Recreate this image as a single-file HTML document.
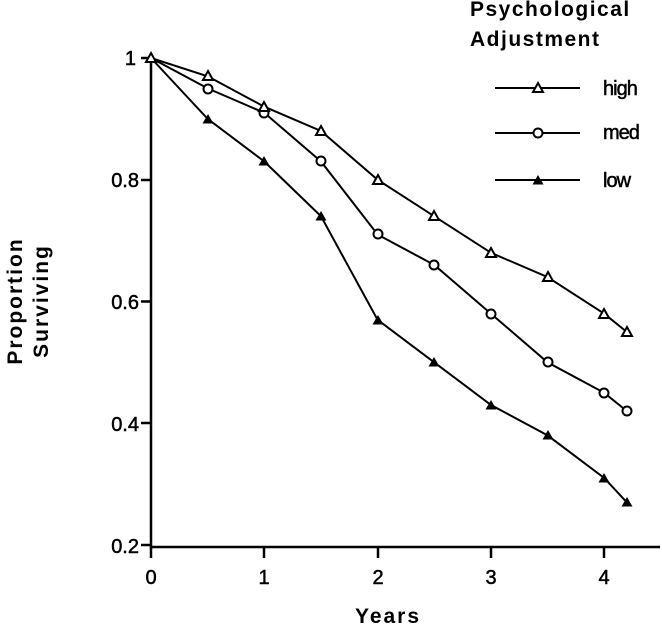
<!DOCTYPE html>
<html><head><style>body{margin:0;background:#fff}svg{display:block}text{font-family:"Liberation Sans",sans-serif;fill:#000}</style></head><body>
<svg width="662" height="626" viewBox="0 0 662 626">
<defs>
<symbol id="to" viewBox="-6 -6 12 12" overflow="visible"><path d="M0,-5 L5,4 L-5,4 Z" fill="#fff" stroke="#000" stroke-width="2"/></symbol>
<symbol id="tf" viewBox="-6 -6 12 12" overflow="visible"><path d="M0,-5 L5.5,4.5 L-5.5,4.5 Z" fill="#000"/></symbol>
<symbol id="c" viewBox="-6 -6 12 12" overflow="visible"><circle r="4.5" fill="#fff" stroke="#000" stroke-width="2"/></symbol>
</defs>
<g stroke="#000" stroke-width="2.5" fill="none">
<line x1="151" y1="56" x2="151" y2="549"/><line x1="150" y1="547" x2="660" y2="547"/>
<line x1="141" y1="58" x2="151" y2="58"/><line x1="141" y1="180" x2="151" y2="180"/><line x1="141" y1="301.5" x2="151" y2="301.5"/><line x1="141" y1="423" x2="151" y2="423"/><line x1="141" y1="545" x2="151" y2="545"/>
<line x1="151" y1="547" x2="151" y2="558"/><line x1="264" y1="547" x2="264" y2="558"/><line x1="378" y1="547" x2="378" y2="558"/><line x1="491" y1="547" x2="491" y2="558"/><line x1="604" y1="547" x2="604" y2="558"/>
</g>
<g stroke="#000" stroke-width="2" fill="none">
<polyline points="151,58 207.7,76.3 264.3,106.7 321,131 377.6,179.8 434.3,216.3 491,252.8 547.6,277.1 604.2,313.7 626.9,332"/>
<polyline points="151,58 207.7,88.4 264.3,112.8 321,161.5 377.6,234.5 434.3,265 491,313.7 547.6,362.4 604.2,392.8 626.9,411.1"/>
<polyline points="151,58 207.7,118.9 264.3,161.5 321,216.3 377.6,319.8 434.3,362.4 491,405 547.6,435.4 604.2,478 626.9,502.4"/>
<line x1="495" y1="88" x2="580" y2="88"/><line x1="495" y1="133" x2="580" y2="133"/><line x1="495" y1="180" x2="580" y2="180"/>
</g>
<g>
<use href="#c" x="202" y="83" width="12" height="12"/><use href="#c" x="258" y="107" width="12" height="12"/><use href="#c" x="315" y="155" width="12" height="12"/><use href="#c" x="372" y="228" width="12" height="12"/><use href="#c" x="428" y="259" width="12" height="12"/><use href="#c" x="485" y="308" width="12" height="12"/><use href="#c" x="542" y="356" width="12" height="12"/><use href="#c" x="598" y="387" width="12" height="12"/><use href="#c" x="621" y="405" width="12" height="12"/><use href="#c" x="532" y="127" width="12" height="12"/>
<use href="#to" x="145" y="52" width="12" height="12"/><use href="#to" x="202" y="70" width="12" height="12"/><use href="#to" x="258" y="101" width="12" height="12"/><use href="#to" x="315" y="125" width="12" height="12"/><use href="#to" x="372" y="174" width="12" height="12"/><use href="#to" x="428" y="210" width="12" height="12"/><use href="#to" x="485" y="247" width="12" height="12"/><use href="#to" x="542" y="271" width="12" height="12"/><use href="#to" x="598" y="308" width="12" height="12"/><use href="#to" x="621" y="326" width="12" height="12"/><use href="#to" x="532" y="82" width="12" height="12"/>
<use href="#tf" x="202" y="113" width="12" height="12"/><use href="#tf" x="258" y="155" width="12" height="12"/><use href="#tf" x="315" y="210" width="12" height="12"/><use href="#tf" x="372" y="314" width="12" height="12"/><use href="#tf" x="428" y="356" width="12" height="12"/><use href="#tf" x="485" y="399" width="12" height="12"/><use href="#tf" x="542" y="429" width="12" height="12"/><use href="#tf" x="598" y="472" width="12" height="12"/><use href="#tf" x="621" y="496" width="12" height="12"/><use href="#tf" x="532" y="174" width="12" height="12"/>
</g>
<g font-size="20" text-anchor="end" stroke="#000" stroke-width="0.5">
<text x="136" y="65">1</text><text x="139" y="187">0.8</text><text x="139" y="309">0.6</text><text x="139" y="431">0.4</text><text x="139" y="553">0.2</text>
</g>
<g font-size="20" text-anchor="middle" stroke="#000" stroke-width="0.5">
<text x="151" y="584">0</text><text x="264" y="584">1</text><text x="378" y="584">2</text><text x="491" y="584">3</text><text x="604" y="584">4</text>
</g>
<text x="388" y="623" font-size="21" font-weight="bold" text-anchor="middle" letter-spacing="2">Years</text>
<g transform="translate(22,301) rotate(-90)" font-size="21" font-weight="bold" text-anchor="middle" letter-spacing="2">
<text x="0" y="0">Proportion</text><text x="0" y="26">Surviving</text>
</g>
<g font-size="21" font-weight="bold" letter-spacing="1.5">
<text x="470" y="16">Psychological</text><text x="470" y="46">Adjustment</text>
</g>
<g font-size="20" letter-spacing="-1" stroke="#000" stroke-width="0.5">
<text x="603" y="95">high</text><text x="603" y="139">med</text><text x="603" y="187">low</text>
</g>
</svg>
</body></html>
